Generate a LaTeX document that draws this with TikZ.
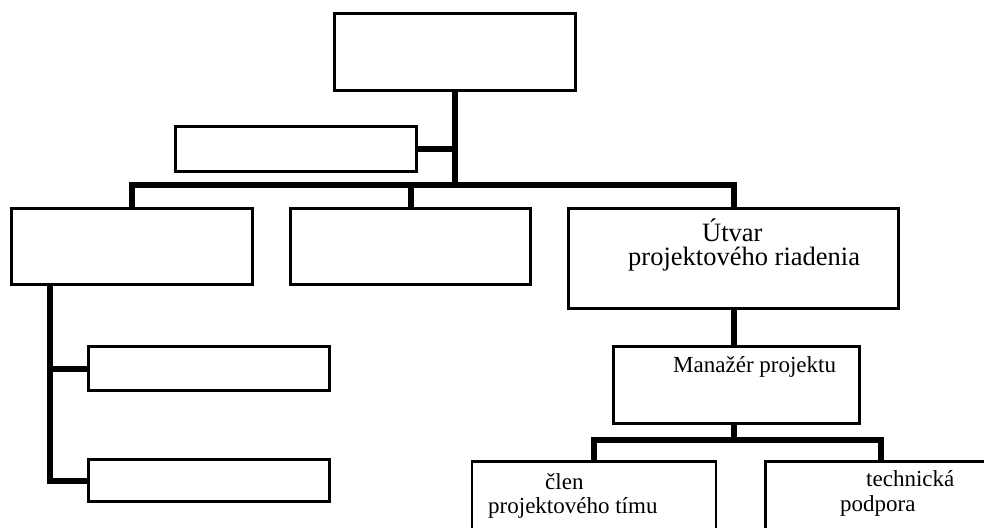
\documentclass[tikz,border=0pt]{standalone}
\usepackage{fontspec}
\setmainfont{Liberation Serif}
\begin{document}
\begin{tikzpicture}[x=1pt,y=-1pt,
  box/.style={draw=black,line width=1.8pt,fill=white,rectangle,inner sep=0pt},
  conn/.style={line width=6pt,line join=miter,line cap=butt},
  bigtxt/.style={font=\fontsize{26.5}{30}\selectfont,anchor=base west,inner sep=0pt},
  txt/.style={font=\fontsize{23}{26}\selectfont,anchor=base west,inner sep=0pt}]
\useasboundingbox (0,0) rectangle (984,527);
\clip (0,0) rectangle (984,527);
% boxes
\node[box,minimum width=240pt,minimum height=76pt] (top) at (455,52) {};
\node[box,minimum width=240pt,minimum height=44pt] (side) at (296,149) {};
\node[box,minimum width=240pt,minimum height=75pt] (L) at (132,246.5) {};
\node[box,minimum width=239pt,minimum height=75pt] (M) at (410.5,246.5) {};
\node[box,minimum width=329pt,minimum height=99pt] (U) at (733.5,258.5) {};
\node[box,minimum width=245pt,minimum height=76pt] (Man) at (736.5,385) {};
\node[box,minimum width=240pt,minimum height=43pt] (L1) at (209,368.5) {};
\node[box,minimum width=240pt,minimum height=41pt] (L2) at (209,480.5) {};
\node[box,minimum width=243pt,minimum height=100pt] (B1) at (594,512) {};
\node[box,minimum width=230pt,minimum height=100pt] (B2) at (881,512) {};
% coordinates
\coordinate (bus) at (0,185);
\coordinate (bus2) at (0,440);
\coordinate (lspine) at (50,0);
% connectors
\draw[conn] (top.south) -- (top.south |- bus);
\draw[conn] (side.east) -- (side.east -| top.south);
\draw[conn] (L.north) -- (L.north |- bus) -- (U.north |- bus) -- (U.north);
\draw[conn] (M.north) -- (M.north |- bus);
\draw[conn] ([xshift=0.5pt]U.south) -- ([xshift=0.5pt]U.south |- Man.north);
\draw[conn] ([xshift=0.5pt]U.south |- Man.south) -- ([xshift=0.5pt]U.south |- bus2);
\draw[conn] (B1.north) -- (B1.north |- bus2) -- (B2.north |- bus2) -- (B2.north);
\draw[conn] (lspine |- L.south) -- (lspine |- L2.west) -- (L2.west);
\draw[conn] (lspine |- L1.west) -- (L1.west);
% redraw box borders over connector ends
\foreach \n in {top,side,L,M,U,Man,L1,L2,B1,B2}{\draw[line width=1.8pt] (\n.north west) rectangle (\n.south east);}
% texts
\node[bigtxt] (t1) at (702,241) {Útvar};
\node[bigtxt] (t2) at (628,265) {projektového riadenia};
\node[txt] (t3) at (673,372) {Manažér projektu};
\node[txt] (t4) at (545,489) {člen};
\node[txt] (t5) at (488,513) {projektového tímu};
\node[txt] (t6) at (866,486) {technická};
\node[txt] (t7) at (840,511) {podpora};
\end{tikzpicture}
\end{document}
